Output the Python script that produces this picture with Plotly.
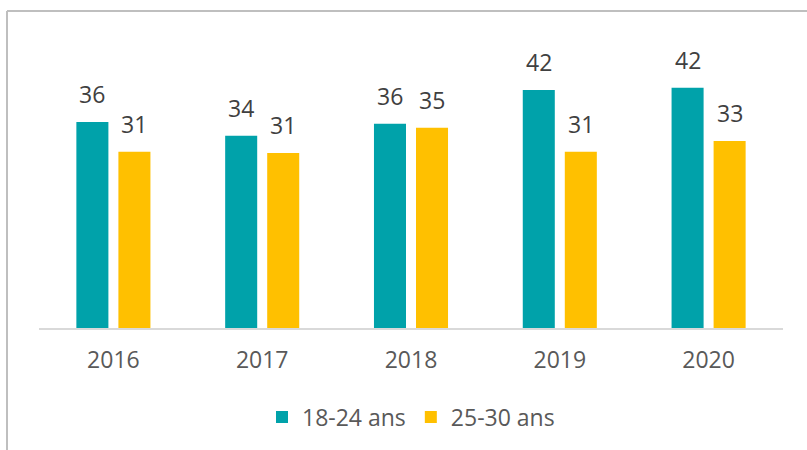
import plotly.graph_objects as go

years = ["2016", "2017", "2018", "2019", "2020"]
series_names = ["18-24 ans", "25-30 ans"]
values_18_24 = [36.0, 33.6, 35.7, 41.6, 42.0]
values_25_30 = [30.8, 30.6, 35.0, 30.8, 32.7]
colors = ["#00A2AA", "#FFC000"]

FONT = "Open Sans"
fig = go.Figure()
for name, vals, col in zip(series_names, [values_18_24, values_25_30], colors):
    fig.add_trace(go.Bar(x=years, y=vals, name=name, marker=dict(color=col, line=dict(width=0))))

# data labels above bars (x given as category index)
offsets = [-21, 21]
for vals, dx in zip([values_18_24, values_25_30], offsets):
    for i, v in enumerate(vals):
        fig.add_annotation(x=i, y=v, text=f"{v:.0f}", showarrow=False, xshift=dx, yshift=10,
                           yanchor="bottom", xanchor="center",
                           font=dict(family=FONT, size=23, color="#404040"))

# outer frame (decoration)
fig.add_shape(type="line", xref="paper", yref="paper", x0=-0.043, y0=1.108, x1=1.05, y1=1.108,
              line=dict(color="#BFBFBF", width=2))
fig.add_shape(type="line", xref="paper", yref="paper", x0=-0.043, y0=1.108, x1=-0.043, y1=-0.45,
              line=dict(color="#BFBFBF", width=2))

fig.update_layout(
    width=807, height=450,
    margin=dict(l=39, r=24, t=42, b=122, autoexpand=False),
    paper_bgcolor="white", plot_bgcolor="white",
    barmode="group", bargap=0.435, bargroupgap=0.238,
    font=dict(family=FONT, color="#595959"),
    showlegend=True,
    legend=dict(orientation="h", x=0.5, xanchor="center", y=-0.311, yanchor="middle",
                font=dict(family=FONT, size=23, color="#595959"), itemwidth=30),
    xaxis=dict(type="category", range=[-0.5, 4.5], showline=True, linecolor="#D9D9D9", linewidth=2,
               showgrid=False, ticks="",
               tickfont=dict(family=FONT, size=23, color="#595959"), ticklabelstandoff=10),
    yaxis=dict(range=[0, 50], visible=False, showgrid=False, zeroline=False),
)
fig.write_html("out.html", config={"displayModeBar": False},
               post_script="document.body.style.margin='0';document.body.style.overflow='hidden';")
